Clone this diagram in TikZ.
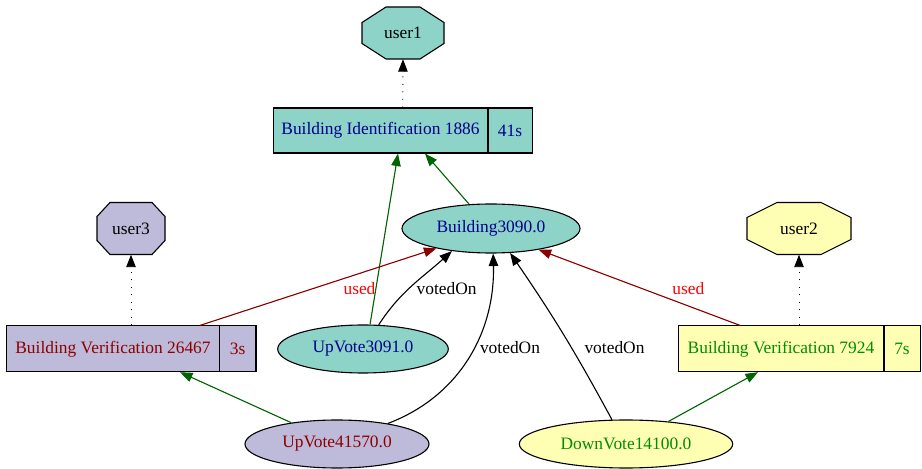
\documentclass[tikz,border=0pt]{standalone}
\usepackage{fontspec}
\setmainfont{Liberation Serif}
\usetikzlibrary{shapes.geometric,arrows.meta,calc}
\definecolor{cteal}{HTML}{8DD3C7}
\definecolor{clav}{HTML}{BEBADA}
\definecolor{cyel}{HTML}{FFFFB3}
\definecolor{tblue}{RGB}{0,0,139}
\definecolor{tred}{RGB}{139,0,0}
\definecolor{tgreen}{RGB}{0,139,0}
\definecolor{egreen}{RGB}{0,100,0}
\definecolor{ered}{RGB}{139,0,0}
\definecolor{lred}{RGB}{255,0,0}
\tikzset{
  txt/.style={font=\fontsize{17.4}{20}\selectfont, inner sep=0pt},
  octo/.style={draw=black, line width=1.1pt},
  octlbl/.style={txt, text=black},
  recbox/.style={draw=black, line width=1.1pt, inner sep=0pt},
  ellnode/.style={ellipse, draw=black, line width=1.1pt, inner sep=0pt, txt},
  edge/.style={line width=1.1pt, -{Triangle[length=12.5pt,width=9.5pt]}},
  dotedge/.style={line width=0.9pt, -{Triangle[length=12.5pt,width=9.5pt,line width=0.9pt,fill=black]}, dash pattern=on 1pt off 6.5pt},
  gedge/.style={edge, draw=egreen, fill=egreen},
  redge/.style={edge, draw=ered, fill=ered},
  bedge/.style={edge, draw=black},
  elbl/.style={txt}
}
\begin{document}
\begin{tikzpicture}[x=1pt,y=1pt]
\useasboundingbox (0,0) rectangle (922,469);
\fill[white] (0,0) rectangle (922,469);

% octagons
\begin{scope}[shift={(403,436)}]
\draw[octo,fill=cteal] (-17,26)--(17,26)--(41,10.5)--(41,-10.5)--(17,-26)--(-17,-26)--(-41,-10.5)--(-41,10.5)--cycle;
\end{scope}
\node[octlbl, minimum width=82pt, minimum height=52pt] (u1) at (403,436) {user1};

\begin{scope}[shift={(131,240.5)}]
\draw[octo,fill=clav] (-21,26)--(21,26)--(34,12)--(34,-12)--(21,-26)--(-21,-26)--(-34,-12)--(-34,12)--cycle;
\end{scope}
\node[octlbl, minimum width=68pt, minimum height=52pt] (u3) at (131,240.5) {user3};

\begin{scope}[shift={(799,240.5)}]
\draw[octo,fill=cyel] (-22,26)--(22,26)--(52,11)--(52,-11)--(22,-26)--(-22,-26)--(-52,-11)--(-52,11)--cycle;
\end{scope}
\node[octlbl, minimum width=104pt, minimum height=52pt] (u2) at (799,240.5) {user2};

% records
\node[recbox, fill=cteal, minimum width=258.7pt, minimum height=45pt] (bi) at (402.7,338.5) {};
\draw[line width=1.1pt] (488,316) -- (488,361);
\node[txt, text=tblue] (bit) at (380.5,338.5) {Building Identification 1886};
\node[txt, text=tblue] (bis) at (510,338.5) {41s};

\node[recbox, fill=clav, minimum width=249.3pt, minimum height=45.7pt] (bv1) at (131.3,120.2) {};
\draw[line width=1.1pt] (219.3,97.35) -- (219.3,143.05);
\node[txt, text=tred] (bv1t) at (113,120.2) {Building Verification 26467};
\node[txt, text=tred] (bv1s) at (237.7,120.2) {3s};

\node[recbox, fill=cyel, minimum width=241.7pt, minimum height=45.7pt] (bv2) at (799.2,120.2) {};
\draw[line width=1.1pt] (884,97.35) -- (884,143.05);
\node[txt, text=tgreen] (bv2t) at (781,120.2) {Building Verification 7924};
\node[txt, text=tgreen] (bv2s) at (902,120.2) {7s};

% ellipses
\node[ellnode, fill=cteal, text=tblue, minimum width=178pt, minimum height=49pt] (b) at (491,240.5) {Building3090.0};
\node[ellnode, fill=cteal, text=tblue, minimum width=170.6pt, minimum height=48pt] (uv1) at (363,120) {UpVote3091.0};
\node[ellnode, fill=clav, text=tred, minimum width=184pt, minimum height=48pt] (uv2) at (337,25) {UpVote41570.0};
\node[ellnode, fill=cyel, text=tgreen, minimum width=213.4pt, minimum height=48pt] (dv) at (626,25) {DownVote14100.0};

% dotted edges
\draw[dotedge] (bi.north) -- (u1.south);
\draw[dotedge] ([xshift=-0.3pt]bv1.north) -- (u3.south);
\draw[dotedge] ([xshift=-0.2pt]bv2.north) -- (u2.south);

% green edges
\draw[gedge] (b.132) -- ([xshift=22.3pt]bi.south);
\draw[gedge] (uv1.74) -- ([xshift=-4.7pt]bi.south);
\draw[gedge] (uv2.155) -- ([xshift=48.7pt]bv1.south);
\draw[gedge] (dv.28.4) -- ([xshift=-41.2pt]bv2.south);

% red edges
\draw[redge] ([xshift=68.7pt]bv1.north) -- (b.200);
\draw[redge] ([xshift=-59.2pt]bv2.north) -- (b.336);
\node[elbl, text=lred] (l1) at (359.5,180) {used};
\node[elbl, text=lred] (l2) at (688.3,180) {used};

% votedOn edges
\draw[bedge] (uv1.57) to[out=57,in=222] (b.210);
\draw[bedge] (uv2.22) .. controls (458,72) and (495,135) .. (b.275);
\draw[bedge] (dv.120.7) to[bend right=3] (b.308.5);
\node[elbl] (l3) at (446.7,180) {votedOn};
\node[elbl] (l4) at (510,121.5) {votedOn};
\node[elbl] (l5) at (614.5,121.5) {votedOn};
\end{tikzpicture}
\end{document}
